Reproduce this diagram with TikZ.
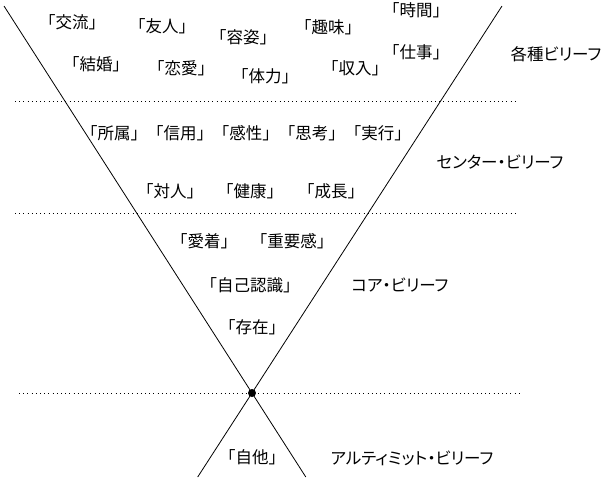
\documentclass[tikz,border=0pt]{standalone}
\usepackage{fontspec}
\setmainfont{Noto Sans CJK JP}
\newfontfamily\kanafont[RawFeature=+palt]{Noto Sans CJK JP}
\begin{document}
\begin{tikzpicture}[x=1pt,y=-1pt,
  lbl/.style={inner sep=0pt, font=\fontsize{16.5}{19}\selectfont},
  side/.style={inner sep=0pt, font=\fontsize{16.5}{19}\selectfont\kanafont},
  sepline/.style={line width=0.9pt, dash pattern=on 1pt off 3.2pt},
  edgeline/.style={line width=0.8pt},
  dotnode/.style={circle, fill=black, inner sep=0pt, minimum size=8pt}]
\useasboundingbox (0,0) rectangle (603,480);
% funnel lines
\coordinate (topL) at (4,6);
\coordinate (topR) at (502,6);
\coordinate (botR) at (305.8,477);
\coordinate (botL) at (197.7,477);
\draw[edgeline] (topL) -- (botR);
\draw[edgeline] (topR) -- (botL);
\node[dotnode] (cross) at (252,393) {};
% dotted separators
\coordinate (s1a) at (15,101);  \coordinate (s1b) at (516,101);
\coordinate (s2a) at (15,213);  \coordinate (s2b) at (516,213);
\coordinate (s3a) at (19,393);  \coordinate (s3b) at (520,393);
\draw[sepline] (s1a) -- (s1b);
\draw[sepline] (s2a) -- (s2b);
\draw[sepline] (s3a) -- (s3b);
% top band
\node[lbl] (koryu)  at (72,22)  {「交流」};
\node[lbl] (yujin)  at (162,26) {「友人」};
\node[lbl] (yoshi)  at (243,37) {「容姿」};
\node[lbl] (shumi)  at (328,27) {「趣味」};
\node[lbl] (jikan)  at (416,10) {「時間」};
\node[lbl] (shigoto) at (416,52) {「仕事」};
\node[lbl] (kekkon) at (96,64)  {「結婚」};
\node[lbl] (renai)  at (181,68) {「恋愛」};
\node[lbl] (tairyoku) at (265,76) {「体力」};
\node[lbl] (shunyu) at (355,68) {「収入」};
\node[side] (kakushu) at (556,54) {各種ビリーフ};
% center band
\node[lbl] (row1) at (246,133) {「所属」「信用」「感性」「思考」「実行」};
\node[lbl] (taijin) at (170,191) {「対人」};
\node[lbl] (kenko)  at (250,191) {「健康」};
\node[lbl] (seicho) at (331,191) {「成長」};
\node[side] (center) at (500,162) {センター・ビリーフ};
% core band
\node[lbl] (aichaku) at (204,241) {「愛着」};
\node[lbl] (juyo)    at (292,241) {「重要感」};
\node[lbl] (jiko)    at (250,285) {「自己認識」};
\node[lbl] (sonzai)  at (252,327) {「存在」};
\node[side] (core) at (400,285) {コア・ビリーフ};
% ultimate band
\node[lbl] (jita) at (252,457) {「自他」};
\node[side] (ultimate) at (412,458) {アルティミット・ビリーフ};
\end{tikzpicture}
\end{document}
